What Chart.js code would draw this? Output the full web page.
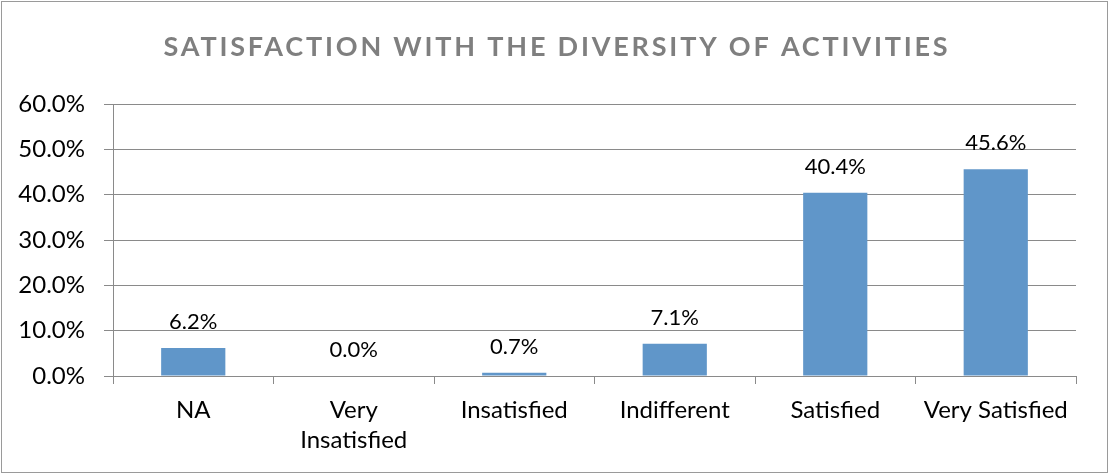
<!DOCTYPE html>
<html>
<head>
<meta charset="utf-8">
<script src="https://cdn.jsdelivr.net/npm/chart.js@4.4.0/dist/chart.umd.min.js"></script>
<style>
  html, body { margin: 0; padding: 0; background: #fff; }
  #wrap { position: relative; width: 1109px; height: 474px; }
</style>
</head>
<body>
<div id="wrap"><canvas id="c" width="1109" height="474"></canvas></div>
<script>
const chartTitle = 'SATISFACTION WITH THE DIVERSITY OF ACTIVITIES';
const categories = ['NA', ['Very', 'Insatisfied'], 'Insatisfied', 'Indifferent', 'Satisfied', 'Very Satisfied'];
const values = [6.2, 0.0, 0.7, 7.1, 40.4, 45.6];
const yTickMin = 0, yTickMax = 60, yTickStep = 10;

const FONT = 'Lato, "Open Sans", sans-serif';

const frameAndLabels = {
  id: 'frameAndLabels',
  beforeDraw(chart) {
    const ctx = chart.ctx;
    ctx.save();
    ctx.fillStyle = '#fff';
    ctx.fillRect(0, 0, chart.width, chart.height);
    ctx.strokeStyle = '#9a9a9a';
    ctx.lineWidth = 1;
    ctx.strokeRect(1.5, 1.5, chart.width - 3, chart.height - 3);
    ctx.restore();
  },
  afterDraw(chart) {
    const ctx = chart.ctx;
    ctx.save();
    // title
    ctx.fillStyle = '#7f7f7f';
    ctx.font = 'bold 27px ' + FONT;
    ctx.textAlign = 'center';
    ctx.textBaseline = 'middle';
    if ('letterSpacing' in ctx) ctx.letterSpacing = '2.8px';
    ctx.fillText(chartTitle, 557, 47);
    if ('letterSpacing' in ctx) ctx.letterSpacing = '0px';
    // data labels
    const meta = chart.getDatasetMeta(0);
    ctx.fillStyle = '#000';
    ctx.font = '22px ' + FONT;
    meta.data.forEach((bar, i) => {
      ctx.fillText(values[i].toFixed(1) + '%', bar.x, bar.y - 26);
    });
    ctx.restore();
  }
};

new Chart(document.getElementById('c'), {
  type: 'bar',
  data: {
    labels: categories,
    datasets: [{
      data: values,
      backgroundColor: '#6096c9',
      borderWidth: 0,
      categoryPercentage: 1.0,
      barPercentage: 0.4
    }]
  },
  options: {
    responsive: false,
    animation: false,
    events: [],
    layout: { padding: { top: 104, right: 33, bottom: 0, left: 0 } },
    plugins: {
      legend: { display: false },
      title: { display: false },
      tooltip: { enabled: false }
    },
    scales: {
      x: {
        offset: true,
        grid: {
          offset: true,
          drawOnChartArea: false,
          drawTicks: true,
          tickLength: 8,
          color: '#8a8a8a',
          lineWidth: 1
        },
        border: { display: true, color: '#8a8a8a', width: 1 },
        ticks: {
          color: '#000',
          font: { family: FONT, size: 24, lineHeight: 1.25 },
          padding: 11,
          maxRotation: 0,
          autoSkip: false
        },
        afterFit(scale) { scale.height = 98; }
      },
      y: {
        min: yTickMin,
        max: yTickMax,
        ticks: {
          stepSize: yTickStep,
          color: '#000',
          font: { family: FONT, size: 24 },
          padding: 19,
          callback: v => v.toFixed(1) + '%'
        },
        grid: {
          color: '#8a8a8a',
          lineWidth: 1,
          tickLength: 9,
          drawTicks: true
        },
        border: { display: true, color: '#8a8a8a', width: 1 },
        afterFit(scale) { scale.width = 113; }
      }
    }
  },
  plugins: [frameAndLabels]
});
</script>
</body>
</html>
